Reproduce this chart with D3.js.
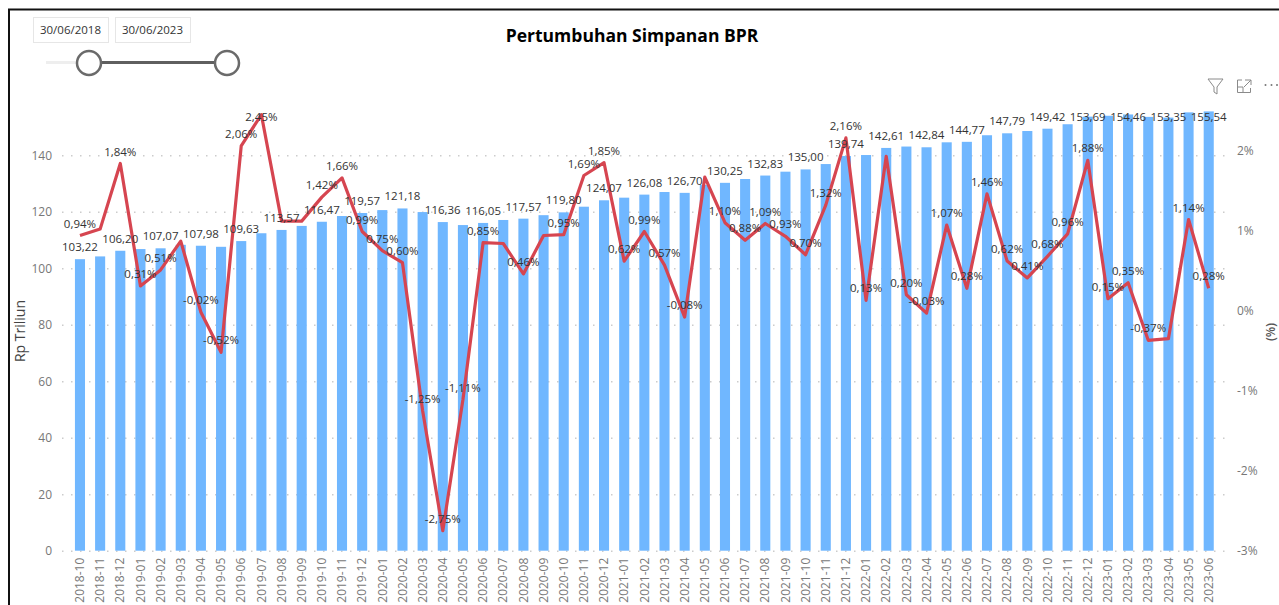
<!DOCTYPE html>
<html>
<head>
<meta charset="utf-8">
<script src="https://cdn.jsdelivr.net/npm/d3@7"></script>
<style>
  html, body { margin: 0; padding: 0; background: #fff; overflow: hidden; }
  text { font-family: "Open Sans", "Noto Sans", sans-serif; }
  .axis .domain { display: none; }
  .axis text { fill: #777; font-size: 12px; }
  .grid .domain { display: none; }
  .grid line { stroke: #ccc; stroke-width: 1.5; stroke-dasharray: 1.5 7.5; }
  .val { font-size: 11.5px; fill: #333; text-anchor: middle; }
</style>
</head>
<body>
<svg id="chart" width="1279" height="605"></svg>
<script>
const months = [
  '2018-10','2018-11','2018-12',
  '2019-01','2019-02','2019-03','2019-04','2019-05','2019-06','2019-07','2019-08','2019-09','2019-10','2019-11','2019-12',
  '2020-01','2020-02','2020-03','2020-04','2020-05','2020-06','2020-07','2020-08','2020-09','2020-10','2020-11','2020-12',
  '2021-01','2021-02','2021-03','2021-04','2021-05','2021-06','2021-07','2021-08','2021-09','2021-10','2021-11','2021-12',
  '2022-01','2022-02','2022-03','2022-04','2022-05','2022-06','2022-07','2022-08','2022-09','2022-10','2022-11','2022-12',
  '2023-01','2023-02','2023-03','2023-04','2023-05','2023-06'
];
// Rp trillion; odd positions carry no label in the picture, so they are estimated from bar height
const simpanan = [
  103.22,104.2,106.20,106.8,107.07,108.3,107.98,107.6,109.63,112.4,113.57,115.0,116.47,118.5,119.57,
  120.6,121.18,119.9,116.36,115.3,116.05,117.1,117.57,118.8,119.80,121.8,124.07,
  125.0,126.08,127.0,126.70,129.5,130.25,131.6,132.83,134.2,135.00,136.9,139.74,
  140.1,142.61,143.1,142.84,144.6,144.77,147.1,147.79,148.6,149.42,151.0,153.69,
  154.0,154.46,153.6,153.35,155.2,155.54
];
const pertumbuhan = [
  0.94,1.02,1.84,0.31,0.51,0.87,-0.02,-0.52,2.06,2.45,1.12,1.12,1.42,1.66,0.99,
  0.75,0.60,-1.25,-2.75,-1.11,0.85,0.84,0.46,0.94,0.95,1.69,1.85,
  0.62,0.99,0.57,-0.08,1.67,1.10,0.88,1.09,0.93,0.70,1.32,2.16,
  0.13,1.93,0.20,-0.03,1.07,0.28,1.46,0.62,0.41,0.68,0.96,1.88,
  0.15,0.35,-0.37,-0.35,1.14,0.28
];
// months whose growth point has no data label in the picture
const noGrowthLabel = ['2018-11','2019-03','2019-08','2019-09','2020-07','2020-09','2021-05','2022-02','2023-04'];
const leftTicks = [0,20,40,60,80,100,120,140];
const rightTicks = [-3,-2,-1,0,1,2];
const dateRange = ['30/06/2018','30/06/2023'];

const svg = d3.select('#chart');
const idLocale = d3.formatLocale({ decimal: ',', thousands: '.', grouping: [3], currency: ['', ''], minus: '-' });
const fmtVal = idLocale.format('.2f');
const fmtPct = d => idLocale.format('.2f')(d) + '%';

const plotTop = 117;      // labels get pushed down to here, like power bi does
const yZero = 550.7;
const x = d3.scaleBand().domain(months).range([69.9, 1218.8]).paddingInner(0.5).paddingOuter(0.25);
const y = d3.scaleLinear().domain([0, 140]).range([yZero, 155.3]);
const y2 = d3.scaleLinear().domain([-3, 2]).range([yZero, 150.7]);
const cx = m => x(m) + x.bandwidth() / 2;

// frame
svg.append('path').attr('d', 'M9,605 V9.5 H1279').attr('fill', 'none').attr('stroke', '#111').attr('stroke-width', 2);

// title
svg.append('text').attr('x', 632).attr('y', 42).attr('text-anchor', 'middle')
  .attr('font-size', 17.5).attr('font-weight', 700).attr('fill', '#000').text('Pertumbuhan Simpanan BPR');

// date slicer
const boxes = svg.append('g').selectAll('g').data(dateRange).enter().append('g')
  .attr('transform', (d, i) => `translate(${33.5 + i * 82},17.5)`);
boxes.append('rect').attr('width', 75).attr('height', 25).attr('fill', '#fff').attr('stroke', '#e6e6e6');
boxes.append('text').attr('x', 37).attr('y', 16.5).attr('text-anchor', 'middle')
  .attr('font-size', 11.5).attr('fill', '#333').text(d => d);
svg.append('line').attr('x1', 46).attr('x2', 90).attr('y1', 62.5).attr('y2', 62.5).attr('stroke', '#eee').attr('stroke-width', 3);
svg.append('line').attr('x1', 90).attr('x2', 227).attr('y1', 62.5).attr('y2', 62.5).attr('stroke', '#5f5f5f').attr('stroke-width', 3);
svg.append('g').selectAll('circle').data([89, 227]).enter().append('circle')
  .attr('cx', d => d).attr('cy', 63).attr('r', 12)
  .attr('fill', '#fff').attr('stroke', '#6a6a6a').attr('stroke-width', 2.5);

// visual header icons
svg.append('path').attr('d', 'M1208,79 H1223 L1217,87 V94 L1214,92 V87 Z').attr('fill', 'none').attr('stroke', '#8a8a8a');
svg.append('path').attr('d', 'M1242,80 H1237.5 V92.5 H1250.5 V88 M1245,80 H1251 V85 M1251,80 L1244,87 M1237.5,87 H1243 V92.5')
  .attr('fill', 'none').attr('stroke', '#8a8a8a');
svg.append('g').selectAll('circle').data([1265.5, 1271.5, 1277]).enter().append('circle')
  .attr('cx', d => d).attr('cy', 85).attr('r', 1).attr('fill', '#777');

// gridlines
svg.append('g').attr('class', 'grid').attr('transform', 'translate(62,0)')
  .call(d3.axisRight(y).tickValues(leftTicks).tickSize(1163).tickFormat(''));

// axes
svg.append('g').attr('class', 'axis').attr('transform', 'translate(52,0)')
  .call(d3.axisLeft(y).tickValues(leftTicks).tickSize(0).tickPadding(0));
svg.append('g').attr('class', 'axis').attr('transform', 'translate(1237,0)')
  .call(d3.axisRight(y2).tickValues(rightTicks).tickSize(0).tickPadding(0).tickFormat(d => d + '%'));
const xAxis = svg.append('g').attr('class', 'axis').attr('transform', `translate(0,${yZero})`)
  .call(d3.axisBottom(x).tickSize(0));
xAxis.selectAll('text')
  .attr('transform', 'rotate(-90)')
  .attr('text-anchor', 'end')
  .attr('x', -7).attr('y', 0).attr('dy', '0.35em')
  .style('font-size', '12px');

// axis titles
svg.append('text').attr('transform', 'translate(25,331) rotate(-90)').attr('text-anchor', 'middle')
  .attr('font-size', 14).attr('fill', '#444').text('Rp Triliun');
svg.append('text').attr('transform', 'translate(1275,332) rotate(-90)').attr('text-anchor', 'middle')
  .attr('font-size', 12).attr('font-weight', 600).attr('fill', '#555').text('(%)');

// bars
svg.append('g').selectAll('rect').data(months).enter().append('rect')
  .attr('x', d => x(d))
  .attr('y', (d, i) => y(simpanan[i]))
  .attr('width', x.bandwidth())
  .attr('height', (d, i) => yZero - y(simpanan[i]))
  .attr('fill', '#70b7ff');

// growth line
const line = d3.line().x(d => cx(d[0])).y(d => y2(d[1]));
svg.append('path').datum(d3.zip(months, pertumbuhan))
  .attr('d', line)
  .attr('fill', 'none').attr('stroke', '#d64550').attr('stroke-width', 3.2).attr('stroke-linejoin', 'round');

// bar labels only every second month
svg.append('g').selectAll('text').data(months.filter((d, i) => i % 2 === 0)).enter().append('text')
  .attr('class', 'val')
  .attr('x', d => cx(d))
  .attr('y', d => Math.max(plotTop, y(simpanan[months.indexOf(d)]) - 12))
  .attr('dy', '0.35em')
  .text(d => fmtVal(simpanan[months.indexOf(d)]));

// growth labels
svg.append('g').selectAll('text').data(months.filter(d => !noGrowthLabel.includes(d))).enter().append('text')
  .attr('class', 'val')
  .attr('x', d => cx(d))
  .attr('y', d => Math.max(plotTop, y2(pertumbuhan[months.indexOf(d)]) - 12))
  .attr('dy', '0.35em')
  .text(d => fmtPct(pertumbuhan[months.indexOf(d)]));
</script>
</body>
</html>
